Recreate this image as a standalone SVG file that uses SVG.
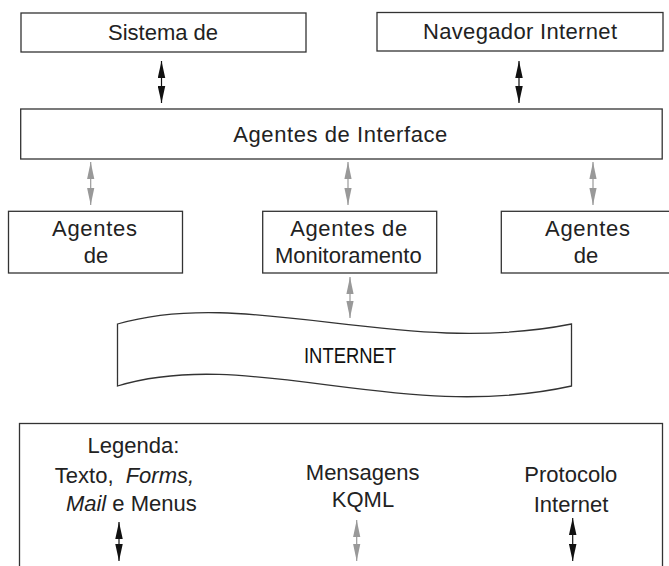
<svg xmlns="http://www.w3.org/2000/svg" width="669" height="566" viewBox="0 0 669 566">
<style>
  .box { fill: #fff; stroke: #333; stroke-width: 1.3; }
  .t { font-family: "Liberation Sans", Arial, sans-serif; font-size: 22px; fill: #222; text-anchor: middle; }
  .net { font-size: 22px; fill: #111; }
  .it { font-style: italic; }
  .blk { stroke: #111; stroke-width: 1.2; fill: none; marker-start: url(#hb); marker-end: url(#hb); }
  .gry { stroke: #999; stroke-width: 1.2; fill: none; marker-start: url(#hg); marker-end: url(#hg); }
</style>
<defs>
  <marker id="hb" markerUnits="userSpaceOnUse" markerWidth="17" markerHeight="8" refX="17" refY="3.75" orient="auto-start-reverse" viewBox="0 0 17 7.5">
    <path d="M0,0 L17,3.75 L0,7.5 z" fill="#111"/>
  </marker>
  <marker id="hg" markerUnits="userSpaceOnUse" markerWidth="17" markerHeight="8" refX="17" refY="3.6" orient="auto-start-reverse" viewBox="0 0 17 7.2">
    <path d="M0,0 L17,3.6 L0,7.2 z" fill="#999"/>
  </marker>
</defs>
<rect width="669" height="566" fill="#fff"/>

<g id="sistema">
  <rect class="box" x="21" y="13" width="285" height="39"/>
  <text class="t" x="163" y="40">Sistema de</text>
</g>
<g id="navegador">
  <rect class="box" x="377" y="12.5" width="286" height="38.5"/>
  <text class="t" x="520" y="38.5" textLength="194">Navegador Internet</text>
</g>
<g id="interface">
  <rect class="box" x="20.7" y="109" width="641.5" height="50"/>
  <text class="t" x="340.3" y="141.7" textLength="214">Agentes de Interface</text>
</g>
<g id="agentes-esq">
  <rect class="box" x="8.5" y="211.3" width="174" height="61.7"/>
  <text class="t" x="94.5" y="235.7" textLength="85">Agentes</text>
  <text class="t" x="96" y="262.7">de</text>
</g>
<g id="monitoramento">
  <rect class="box" x="262.7" y="211.3" width="174" height="61.7"/>
  <text class="t" x="348.7" y="235.7" textLength="117">Agentes de</text>
  <text class="t" x="348.3" y="262.7">Monitoramento</text>
</g>
<g id="agentes-dir">
  <rect class="box" x="501.3" y="211.3" width="180" height="61.7"/>
  <text class="t" x="587.5" y="235.7" textLength="85">Agentes</text>
  <text class="t" x="586" y="262.7">de</text>
</g>
<g id="internet">
  <path class="box" d="M117.5,324 C250,286 400,358 571.5,324 L571.5,386 C400,424 250,346 117.5,386 Z"/>
  <text class="t net" x="350" y="362.5" textLength="92" lengthAdjust="spacingAndGlyphs">INTERNET</text>
</g>
<g id="legenda">
  <rect class="box" x="19.5" y="423.5" width="643" height="160"/>
  <text class="t" x="133.5" y="452.7">Legenda:</text>
  <text class="t" x="124.5" y="482.7">Texto, <tspan class="it" dx="6">Forms,</tspan></text>
  <text class="t" x="131.3" y="510.7"><tspan class="it">Mail</tspan> e Menus</text>
  <text class="t" x="362.7" y="480">Mensagens</text>
  <text class="t" x="363" y="507.3">KQML</text>
  <text class="t" x="570.8" y="481.7">Protocolo</text>
  <text class="t" x="571" y="511.7">Internet</text>
</g>

<g id="connectors">
  <line class="blk" x1="161.5" y1="61" x2="161.5" y2="103"/>
  <line class="blk" x1="519" y1="61" x2="519" y2="103"/>
  <line class="gry" x1="90.7" y1="162" x2="90.7" y2="205"/>
  <line class="gry" x1="348" y1="162" x2="348" y2="205"/>
  <line class="gry" x1="593" y1="162" x2="593" y2="205"/>
  <line class="gry" x1="350" y1="277" x2="350" y2="318"/>
  <line class="blk" x1="119" y1="522" x2="119" y2="561"/>
  <line class="gry" x1="356.7" y1="520" x2="356.7" y2="561"/>
  <line class="blk" x1="572.7" y1="518" x2="572.7" y2="561"/>
</g>
</svg>
